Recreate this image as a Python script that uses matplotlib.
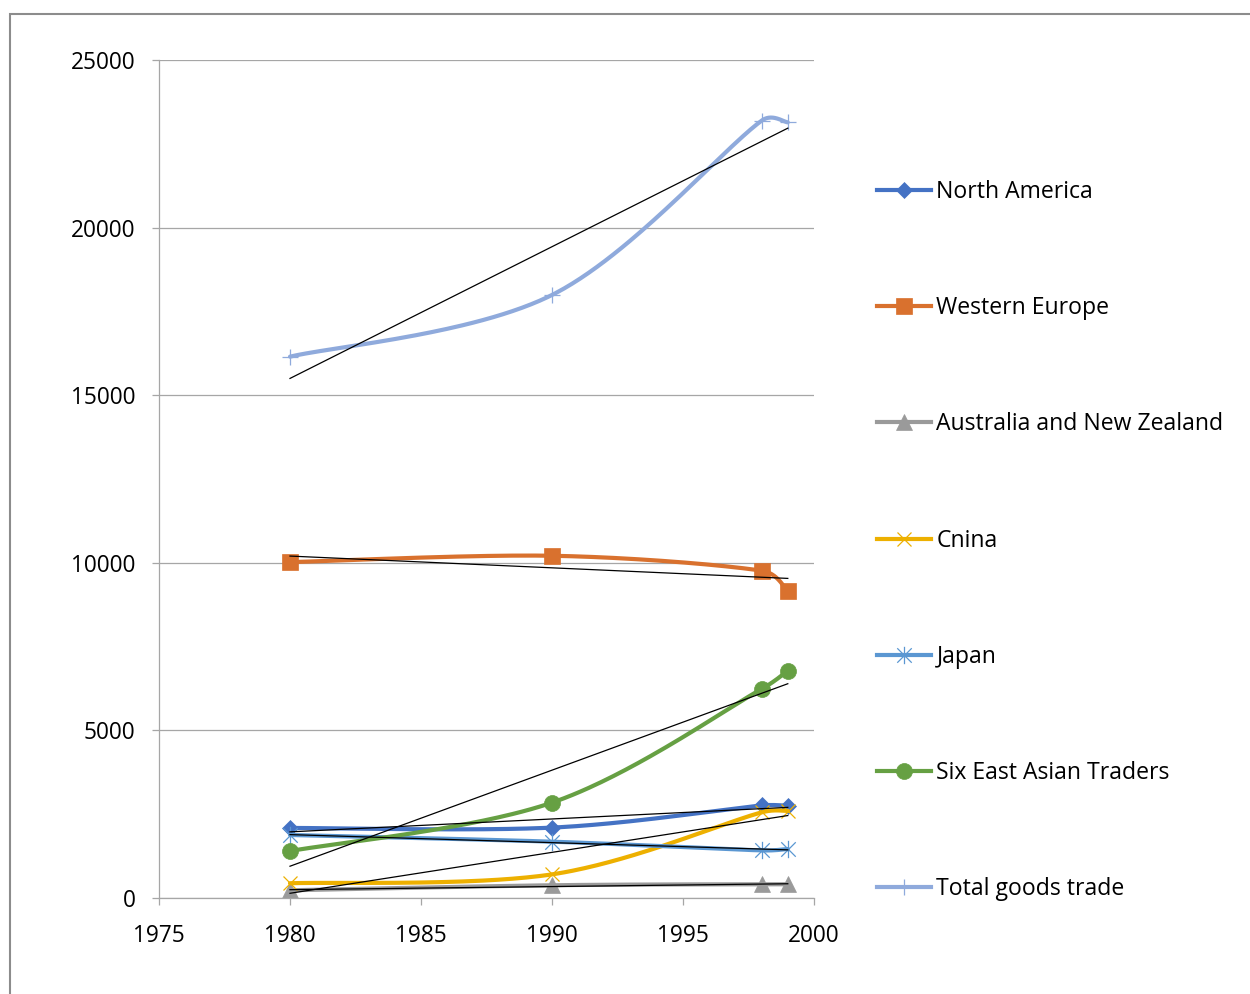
import numpy as np
import matplotlib
matplotlib.use("Agg")
import matplotlib.pyplot as plt
from matplotlib.lines import Line2D
from matplotlib.path import Path
from matplotlib.patches import Rectangle

plt.rcParams['font.family'] = ['Open Sans', 'DejaVu Sans']

years = [1980, 1990, 1998, 1999]
north_america = [2090, 2100, 2760, 2750]
western_europe = [10020, 10210, 9765, 9160]
australia_nz = [230, 380, 410, 410]
china = [440, 705, 2555, 2600]
japan = [1880, 1680, 1420, 1460]
six_east_asian = [1400, 2845, 6235, 6780]
total_goods = [16150, 17990, 23190, 23140]

labels = ["North America", "Western Europe", "Australia and New Zealand",
          "Cnina", "Japan", "Six East Asian Traders", "Total goods trade"]
x_ticks = [1975, 1980, 1985, 1990, 1995, 2000]
y_ticks = [0, 5000, 10000, 15000, 20000, 25000]

star = Path([(-1, -1), (1, 1), (-1, 1), (1, -1), (0, -1.2), (0, 1.2)],
            [Path.MOVETO, Path.LINETO, Path.MOVETO, Path.LINETO, Path.MOVETO, Path.LINETO])

series = [
    (north_america, '#4472C4', 'D', 7.8, True),
    (western_europe, '#D9712E', 's', 11.5, True),
    (australia_nz, '#9A9A9A', '^', 11.5, True),
    (china, '#EDB000', 'x', 10.5, False),
    (japan, '#5B97D2', star, 12.5, False),
    (six_east_asian, '#66A043', 'o', 11.5, True),
    (total_goods, '#8FAADC', '+', 11, False),
]

fig = plt.figure(figsize=(12.5, 9.94), dpi=100)
ax = fig.add_axes([159 / 1250, 1 - 898 / 994, (814 - 159) / 1250, (898 - 60) / 994])
ax.set_xlim(1975, 2000)
ax.set_ylim(0, 25000)


def excel_smooth(xs, ys, n=60):
    # Bezier smoothing in pixel space, with control arms capped at half the segment length
    P = ax.transData.transform(np.column_stack([xs, ys]).astype(float))
    m = len(P)
    out = []
    for i in range(m - 1):
        p0 = P[i - 1] if i > 0 else P[i]
        p1 = P[i]
        p2 = P[i + 1]
        p3 = P[i + 2] if i + 2 < m else P[i + 1]
        d12 = np.linalg.norm(p2 - p1)
        d02 = np.linalg.norm(p2 - p0)
        d13 = np.linalg.norm(p3 - p1)
        f1 = 1 / 6.0
        f2 = 1 / 6.0
        if d02 * f1 > d12 / 2 and d02 > 0:
            f1 = d12 / 2 / d02
        if d13 * f2 > d12 / 2 and d13 > 0:
            f2 = d12 / 2 / d13
        c1 = p1 + (p2 - p0) * f1
        c2 = p2 - (p3 - p1) * f2
        t = np.linspace(0, 1, n)[:, None]
        seg = ((1 - t) ** 3) * p1 + 3 * ((1 - t) ** 2) * t * c1 + 3 * (1 - t) * t ** 2 * c2 + t ** 3 * p2
        out.append(seg if i == 0 else seg[1:])
    pts = ax.transData.inverted().transform(np.vstack(out))
    return pts[:, 0], pts[:, 1]


grid_c = '#A6A6A6'
lw = 3.0
handles = []
for k, (vals, col, mk, ms, filled) in enumerate(series):
    sx, sy = excel_smooth(years, vals)
    z = 2 + k * 0.1
    mew = 0.5 if filled else 0.9
    ax.plot(sx, sy, color=col, lw=lw, solid_capstyle='round', zorder=z)
    ax.plot(years, vals, ls='none', marker=mk, ms=ms, color=col, mec=col, mew=mew, zorder=z + 0.05)
    handles.append(Line2D([], [], color=col, lw=lw, marker=mk, ms=ms, mec=col, mew=mew))

# linear trendlines
for vals, *_ in series:
    a, b = np.polyfit(years, vals, 1)
    xt = np.array([years[0], years[-1]])
    ax.plot(xt, a * xt + b, color='black', lw=0.9, zorder=5)

ax.set_xticks(x_ticks)
ax.set_yticks(y_ticks)
ax.set_xticklabels([str(v) for v in x_ticks])
ax.set_yticklabels([str(v) for v in y_ticks])
ax.yaxis.grid(True, color=grid_c, lw=0.9, zorder=0)
ax.set_axisbelow(True)
for s in ['top', 'right']:
    ax.spines[s].set_visible(False)
for s in ['left', 'bottom']:
    ax.spines[s].set_color(grid_c)
    ax.spines[s].set_linewidth(0.9)
ax.tick_params(axis='both', colors=grid_c, labelcolor='black', labelsize=16.3, length=5, width=0.9)
ax.tick_params(axis='y', pad=12)
ax.tick_params(axis='x', pad=13.5)

leg = fig.legend(handles, labels, loc='upper left', bbox_to_anchor=(877 / 1250, 1 - 180 / 994),
                 frameon=False, fontsize=16.6, handlelength=2.36, handletextpad=0.22,
                 labelspacing=4.0, borderpad=0, borderaxespad=0)

fig.add_artist(Rectangle((10 / 1250, -0.1), 1.2, 1 - 14 / 994 + 0.1, transform=fig.transFigure,
                         fill=False, edgecolor='#8C8C8C', lw=1.5, clip_on=False))

fig.savefig('out.png', dpi=100, facecolor='white')
